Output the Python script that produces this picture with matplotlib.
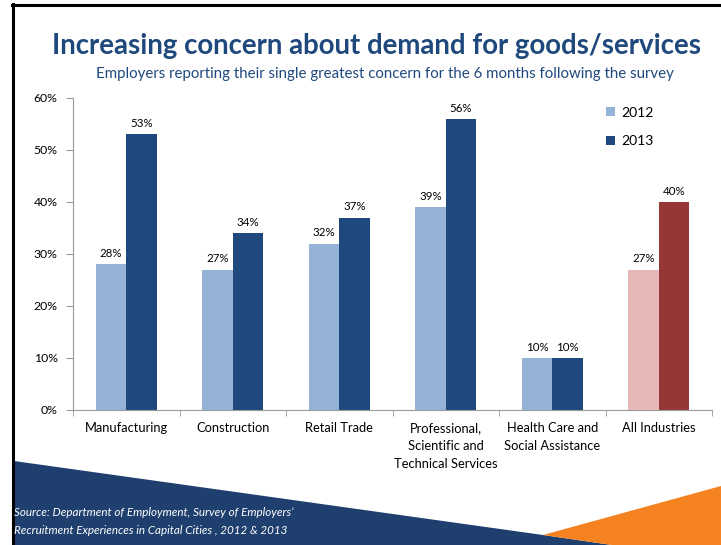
import matplotlib
matplotlib.use("Agg")
import matplotlib.pyplot as plt
from matplotlib.patches import Polygon, Patch
from matplotlib.lines import Line2D
from matplotlib.ticker import FuncFormatter

categories = ["Manufacturing", "Construction", "Retail Trade",
              "Professional,\nScientific and\nTechnical Services",
              "Health Care and\nSocial Assistance", "All Industries"]
values_2012 = [28, 27, 32, 39, 10, 27]
values_2013 = [53, 34, 37, 56, 10, 40]
series_labels = ["2012", "2013"]
y_ticks = [0, 10, 20, 30, 40, 50, 60]

NAVY = "#1F497D"
LIGHT = "#95B3D7"
DARK = "#1F497D"
PINK = "#E6B9B8"
MAROON = "#953735"
ORANGE = "#F58220"
BANNER = "#1F3F6E"

plt.rcParams["font.family"] = ["Lato", "DejaVu Sans"]

W, H = 721, 545
fig = plt.figure(figsize=(W / 100, H / 100), dpi=100)

def fx(x):
    return x / W

def fy(y):
    return 1 - y / H

# footer shapes
fig.patches.append(Polygon([(fx(14), fy(461)), (fx(543), fy(535)), (fx(612), fy(545)),
                            (fx(14), fy(545))], closed=True, transform=fig.transFigure,
                           facecolor=BANNER, edgecolor="none", zorder=0))
fig.patches.append(Polygon([(fx(543), fy(535)), (fx(721), fy(486)), (fx(721), fy(545)),
                            (fx(612), fy(545))], closed=True, transform=fig.transFigure,
                           facecolor=ORANGE, edgecolor="none", zorder=0))

# frame lines
fig.add_artist(Line2D([fx(12), fx(721)], [fy(5), fy(5)], transform=fig.transFigure,
                      color="black", linewidth=2.2))
fig.add_artist(Line2D([fx(13), fx(13)], [fy(4), fy(545)], transform=fig.transFigure,
                      color="black", linewidth=2.2))

fig.text(fx(376), fy(46), "Increasing concern about demand for goods/services",
         ha="center", va="center", fontsize=19.9, fontweight="bold", color=NAVY)
fig.text(fx(385), fy(74), "Employers reporting their single greatest concern for the 6 months following the survey",
         ha="center", va="center", fontsize=10.8, color=NAVY)

fig.text(fx(14), fy(513), "Source: Department of Employment, Survey of Employers\u2019",
         ha="left", va="center", fontsize=8.4, style="italic", color="white")
fig.text(fx(14), fy(530), "Recruitment Experiences in Capital Cities , 2012 & 2013",
         ha="left", va="center", fontsize=8.4, style="italic", color="white")

ax = fig.add_axes([fx(73), fy(410), fx(712) - fx(73), fy(98) - fy(410)])

n = len(categories)
idx = list(range(n))
bw = 0.285
c12 = [LIGHT] * (n - 1) + [PINK]
c13 = [DARK] * (n - 1) + [MAROON]
ax.bar([i - bw / 2 for i in idx], values_2012, width=bw, color=c12, zorder=2)
ax.bar([i + bw / 2 for i in idx], values_2013, width=bw, color=c13, zorder=2)

for i in idx:
    ax.text(i - bw / 2, values_2012[i] + 1.0, f"{values_2012[i]}%", ha="center",
            va="bottom", fontsize=8.3, color="black")
    ax.text(i + bw / 2, values_2013[i] + 1.0, f"{values_2013[i]}%", ha="center",
            va="bottom", fontsize=8.3, color="black")

ax.set_xlim(-0.5, n - 0.5)
ax.set_ylim(0, 60)
ax.set_yticks(y_ticks)
ax.yaxis.set_major_formatter(FuncFormatter(lambda v, p: f"{int(v)}%"))
ax.set_xticks(idx)
ax.set_xticklabels(categories, fontsize=9.3, linespacing=1.55, va="top")
ax.set_xticks([i - 0.5 for i in range(n + 1)], minor=True)
ax.tick_params(axis="x", which="major", length=0, pad=9)
ax.tick_params(axis="x", which="minor", length=4, color="#9A9A9A", direction="out")
ax.tick_params(axis="y", length=5, color="#9A9A9A", labelsize=8.8, pad=6)

for s in ["top", "right"]:
    ax.spines[s].set_visible(False)
for s in ["left", "bottom"]:
    ax.spines[s].set_color("#9A9A9A")
    ax.spines[s].set_linewidth(0.8)

handles = [Patch(facecolor=LIGHT), Patch(facecolor=DARK)]
ax.legend(handles, series_labels, loc="upper left", bbox_to_anchor=(0.815, 1.012),
          frameon=False, fontsize=10, handlelength=0.6, handleheight=0.6,
          handletextpad=0.5, labelspacing=1.2)

fig.savefig("out.png", dpi=100)
